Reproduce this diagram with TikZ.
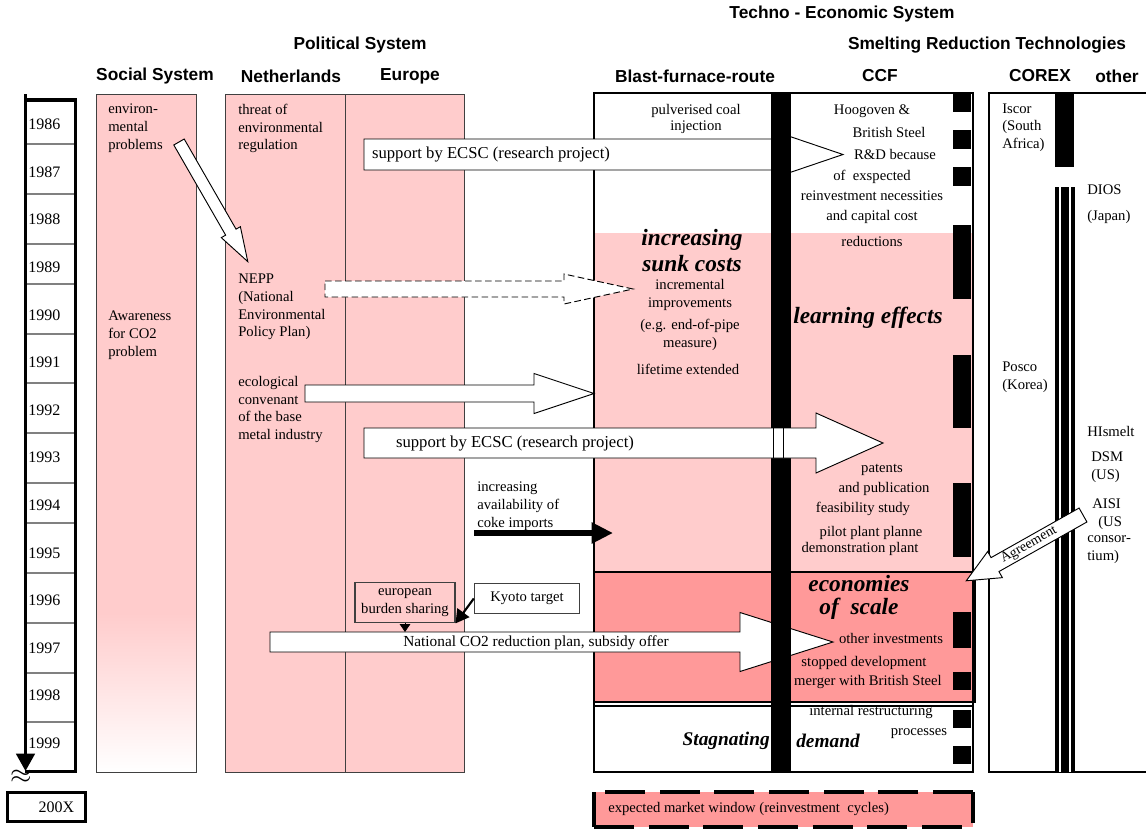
\documentclass[tikz,border=0pt]{standalone}
\usepackage{fontspec}
\setmainfont{Liberation Serif}
\setsansfont{Liberation Sans}
\usetikzlibrary{arrows.meta,positioning,calc}
\definecolor{lpink}{HTML}{FFCCCC}
\definecolor{dpink}{HTML}{FF9999}
\definecolor{frame}{HTML}{404040}

% hollow block arrow: [opts]{x}{y}{length}{head length}{body half}{head half}{angle}
\newcommand{\blockarrow}[8][]{%
  \draw[barrow,#1,shift={(#2,#3)},rotate=#8]
    (0,-#6) -- ({#4-#5},-#6) -- ({#4-#5},-#7) -- (#4,0)
    -- ({#4-#5},#7) -- ({#4-#5},#6) -- (0,#6) -- cycle;}

\begin{document}
\begin{tikzpicture}[x=0.75pt, y=-0.75pt,
  txt/.style={inner sep=0pt, font=\fontsize{11}{13.3}\selectfont},
  lefttxt/.style={txt, anchor=west, align=left},
  hdr/.style={inner sep=0pt, font=\sffamily\bfseries\fontsize{13}{15}\selectfont},
  yr/.style={inner sep=0pt, anchor=west, font=\fontsize{12}{14}\selectfont},
  big/.style={inner sep=0pt, align=center, font=\bfseries\itshape\fontsize{17.5}{17}\selectfont},
  mid/.style={inner sep=0pt, font=\bfseries\itshape\fontsize{14.5}{16}\selectfont},
  barrow/.style={draw=black, fill=white, line width=0.7pt, line join=miter},
  col/.style={fill=lpink, draw=frame, line width=0.6pt},
  textbox/.style={txt, draw=frame, line width=0.8pt, align=center},
]
\useasboundingbox (0,0) rectangle (1146,829);

% headings
\node[hdr] (tes) at (842,14) {Techno - Economic System};
\node[hdr] (pol) at (360,45) {Political System};
\node[hdr] (srt) at (987,45) {Smelting Reduction Technologies};
\node[hdr] (soc) at (155,76) {Social System};
\node[hdr] (nl) at (291,76) {Netherlands};
\node[hdr] (eu) at (410,76) {Europe};
\node[hdr] (bfr) at (695,76) {Blast-furnace-route};
\node[hdr] (ccf) at (880,76) {CCF};
\node[hdr] (corex) at (1040,76) {COREX};
\node[hdr] (other) at (1117,76) {other};

% time axis
\coordinate (tltop) at (25.5,94);
\coordinate (tlend) at (25.5,771);
\draw[line width=1.9pt,-{Triangle[width=14pt,length=13pt]}] (tltop) -- (tlend);
\draw[line width=2.6pt] (75.5,98) -- (75.5,772);
\draw[line width=2.3pt] (25,100) -- (77,100);
\draw[line width=2.3pt] (25,771.5) -- (77,771.5);
\foreach \y in {144,194,244,284,334,383,433,483,523,573,623,673,722}
  \draw[gray, line width=0.8pt] (27,\y) -- (74,\y);
\foreach \i in {0,...,13}{
  \pgfmathtruncatemacro{\yr}{1986+\i}
  \node[yr] (y\yr) at (28,{124.5+47.6*\i}) {\yr};
}
\node[inner sep=0pt, font=\fontsize{22}{22}\selectfont] (approx) at (21,777) {$\approx$};
\node[yr, anchor=center, draw, line width=2.2pt, minimum width=59pt, minimum height=22pt]
  (y200X) at (46.5,807) {\hspace*{15pt}200X};

% social and political columns
\fill[lpink] (96,94) rectangle (196,613);
\shade[top color=lpink, bottom color=white] (96,613) rectangle (196,772);
\draw[frame, line width=0.6pt] (96,94) rectangle (196,772);
\draw[col] (225,94) rectangle (345,772);
\draw[col] (345,94) rectangle (464,772);

% blast furnace and CCF
\fill[white] (594,93) rectangle (973,772);
\fill[lpink] (594,233) rectangle (973,572);
\filldraw[fill=dpink, draw=black, line width=1.9pt] (594,572) rectangle (975,702);
\draw[line width=0.8pt] (594,706) -- (973,706);
\draw[line width=1.5pt] (594,93) rectangle (973,772);

% market window
\fill[dpink] (594,792) rectangle (973,827);
\draw[line width=2.6pt, dash pattern=on 30pt off 11pt] (973,792) -- (594,792) (594,827) -- (973,827) -- (973,792);
\draw[line width=2.6pt] (594,792) -- (594,827);

% arrows lying under the CCF bar
\blockarrow{179}{142}{138}{34}{6}{11}{-60.1}
\blockarrow{364}{154.5}{479}{56}{15.5}{19}{0}
\blockarrow[dash pattern=on 5pt off 2.5pt]{325}{289}{308}{69}{8}{15}{0}
\blockarrow{305}{393.5}{289}{60}{8.5}{20}{0}
\blockarrow{270}{642}{563}{93}{10}{29.5}{0}

% CCF bar and dashed border
\fill (771,93) rectangle (791,772);
\foreach \a/\b in {93/112,130/149,167/186,225/299,355/428,483/557,612/648,672/690,710/728,746/764}
  \fill (953,\a) rectangle (971,\b);

% second ECSC arrow crosses the bar
\blockarrow{364}{443}{519}{67}{15}{30}{0}
\draw[line width=0.7pt] (773,428) -- (773,458) (783,428) -- (783,458);

% COREX and others
\draw[line width=1.5pt] (989,93) rectangle (1160,772);
\fill (1055,93) rectangle (1074,167);
\fill (1055,187) rectangle (1075,772);
\draw[white, line width=1.2pt] (1060,187) -- (1060,772) (1070,187) -- (1070,772);
\blockarrow{1083}{515}{134}{33}{8}{15}{209.4}
\node[txt, rotate=29.4, font=\fontsize{10.5}{12}\selectfont] (agr) at (1029,545) {Agreement};

% coke imports
\coordinate (cokeA) at (474,533);
\coordinate (cokeB) at (613,533);
\draw[line width=4pt, -{Triangle[width=15pt,length=16pt]}] (cokeA) -- (cokeB);

% Kyoto and burden sharing
\node[textbox, fill=lpink, minimum width=75pt, minimum height=30.5pt] (eur) at (405,602.5) {european\\burden sharing};
\node[textbox, fill=white, minimum width=79pt, minimum height=23pt] (kyoto) at (527,598.5) {Kyoto target};
\coordinate (natltop) at (405,632);
\draw[line width=1.6pt, -{Triangle[width=11pt,length=10pt]}] (kyoto.west) -- (eur.south east);
\draw[line width=0.6pt, -{Triangle[width=8pt,length=6pt]}] (eur.south) -- (natltop);

% arrow labels
\node[txt, font=\fontsize{12.5}{14}\selectfont] (ecsc1) at (491,155) {support by ECSC (research project)};
\node[txt, font=\fontsize{12.5}{14}\selectfont] (ecsc2) at (515,444) {support by ECSC (research project)};
\node[txt, font=\fontsize{11.5}{13}\selectfont] (natl) at (536,643) {National CO2 reduction plan, subsidy offer};

% column texts
\node[lefttxt] (envp) at (108,128) {environ-\\mental\\problems};
\node[lefttxt] (aware) at (108,335) {Awareness\\for CO2\\problem};
\node[lefttxt] (threat) at (238,128.5) {threat of\\environmental\\regulation};
\node[lefttxt] (nepp) at (238,307) {NEPP\\(National\\Environmental\\Policy Plan)};
\node[lefttxt] (ecol) at (238,409.5) {ecological\\convenant\\of the base\\metal industry};
\node[lefttxt] (coke) at (477,506) {increasing\\availability of\\coke imports};

% blast furnace texts
\node[txt, align=center, font=\fontsize{11}{12}\selectfont] (pci) at (696,119) {pulverised coal\\injection};
\node[big] (sunk) at (692,251) {increasing\\[2.5pt]sunk costs};
\node[txt, align=center] (incr) at (690,315) {incremental\\improvements\\[3pt](e.g. end-of-pipe\\measure)};
\node[txt] (life) at (688,369) {lifetime extended};
\node[mid, anchor=east] (stag) at (770,741) {Stagnating};
\node[mid] (dem) at (828,741) {demand};

% CCF texts
\foreach \x/\y/\lbl [count=\i] in {872/111/{Hoogoven \&}, 889/132/{British Steel},
    895/154/{R\&D because}, 872/177/{of\ \ exspected}, 872/196/{reinvestment necessities},
    872/217/{and capital cost}, 872/241/{reductions}, 882/470/{patents},
    884/489/{and publication}, 863/509/{feasibility study}, 871/533/{pilot plant planne},
    860/549/{demonstration plant}, 891/638/{other investments}, 864/663/{stopped development},
    868/682/{merger with British Steel}, 871/712/{internal restructuring}, 919/734/{processes}}
  \node[txt] (ccf\i) at (\x,\y) {\lbl};
\node[big] (learn) at (868,318) {learning effects};
\node[big] (econ) at (859,597.5) {economies\\of\ \ scale};
\node[txt, anchor=west] (mw) at (608,809) {expected market window (reinvestment\ \ cycles)};

% COREX and other texts
\node[lefttxt] (iscor) at (1002,127.5) {Iscor\\(South\\Africa)};
\node[lefttxt] (posco) at (1002,377.5) {Posco\\(Korea)};
\node[lefttxt] (dios) at (1087,190) {DIOS};
\node[lefttxt] (japan) at (1087,217) {(Japan)};
\node[lefttxt] (hism) at (1087,431) {HIsmelt};
\node[lefttxt] (dsm) at (1091,467.5) {DSM\\(US)};
\node[lefttxt] (aisi) at (1092,504) {AISI};
\node[lefttxt] (us) at (1098,523) {(US};
\node[lefttxt] (cons) at (1087,549.5) {consor-\\tium)};
\end{tikzpicture}
\end{document}
